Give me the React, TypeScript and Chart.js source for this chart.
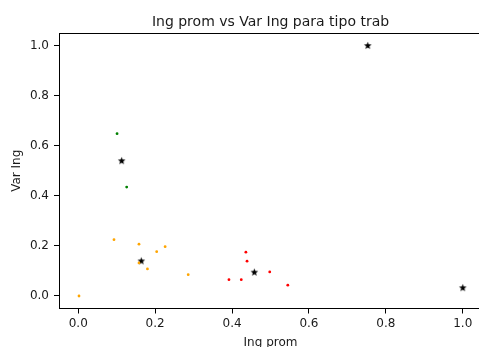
import React, { useEffect, useRef } from "react";
import { Chart, registerables } from "chart.js";

Chart.register(...registerables);

const TITLE = "Ing prom vs Var Ing para tipo trab";
const X_LABEL = "Ing prom";
const Y_LABEL = "Var Ing";

const greenX = [0.101, 0.126];
const greenY = [0.648, 0.435];
const orangeX = [0.002, 0.093, 0.158, 0.204, 0.226, 0.158, 0.180, 0.286];
const orangeY = [0.0, 0.225, 0.207, 0.177, 0.197, 0.132, 0.108, 0.085];
const redX = [0.392, 0.424, 0.436, 0.439, 0.498, 0.545];
const redY = [0.065, 0.065, 0.175, 0.139, 0.096, 0.043];
const centroidX = [0.753, 0.113, 0.164, 0.458, 1.0];
const centroidY = [1.0, 0.54, 0.14, 0.095, 0.033];
const tickValues = [0, 0.2, 0.4, 0.6, 0.8, 1.0];

const FONT = '"DejaVu Sans", Verdana, sans-serif';

function pts(xs: number[], ys: number[]) {
  return xs.map((x, i) => ({ x, y: ys[i] }));
}

function makeStar(): HTMLCanvasElement {
  const c = document.createElement("canvas");
  c.width = 9;
  c.height = 9;
  const g = c.getContext("2d")!;
  const cx = 4.5, cy = 4.7, ro = 4.0, ri = 1.7;
  g.beginPath();
  for (let i = 0; i < 10; i++) {
    const r = i % 2 === 0 ? ro : ri;
    const a = -Math.PI / 2 + (i * Math.PI) / 5;
    const px = cx + r * Math.cos(a);
    const py = cy + r * Math.sin(a);
    if (i === 0) g.moveTo(px, py);
    else g.lineTo(px, py);
  }
  g.closePath();
  g.fillStyle = "#000";
  g.fill();
  return c;
}

const textPlugin = {
  id: "texts",
  afterDraw(chart: any) {
    const { ctx, chartArea } = chart;
    ctx.save();
    // top spine
    ctx.strokeStyle = "#000";
    ctx.lineWidth = 1;
    ctx.beginPath();
    ctx.moveTo(chartArea.left, Math.round(chartArea.top) + 0.5);
    ctx.lineTo(chartArea.right, Math.round(chartArea.top) + 0.5);
    ctx.stroke();
    ctx.fillStyle = "#1a1a1a";
    const cx = (chartArea.left + chartArea.right) / 2;
    ctx.textAlign = "center";
    ctx.textBaseline = "alphabetic";
    ctx.font = `14px ${FONT}`;
    ctx.fillText(TITLE, cx, 25.7);
    ctx.font = `12px ${FONT}`;
    ctx.fillText(X_LABEL, cx, 346);
    ctx.translate(20, (chartArea.top + chartArea.bottom) / 2);
    ctx.rotate(-Math.PI / 2);
    ctx.fillText(Y_LABEL, 0, 0);
    ctx.restore();
  },
};

export default function App() {
  const ref = useRef<HTMLCanvasElement | null>(null);
  useEffect(() => {
    if (!ref.current) return;
    const star = makeStar();
    const tickOpts = {
      color: "#1a1a1a",
      font: { family: FONT, size: 12 },
      callback: (v: any) => Number(v).toFixed(1),
    };
    const chart = new Chart(ref.current, {
      type: "scatter",
      data: {
        datasets: [
          { data: pts(greenX, greenY), backgroundColor: "#008000", pointRadius: 1.4, borderWidth: 0 },
          { data: pts(orangeX, orangeY), backgroundColor: "#ffa500", pointRadius: 1.4, borderWidth: 0 },
          { data: pts(redX, redY), backgroundColor: "#ff0000", pointRadius: 1.4, borderWidth: 0 },
          { data: pts(centroidX, centroidY), pointStyle: star as any, pointRadius: 4, backgroundColor: "#000" },
        ],
      },
      options: {
        animation: false,
        responsive: false,
        devicePixelRatio: 1,
        layout: { autoPadding: false, padding: { top: 33, right: 1, left: 0, bottom: 0 } },
        plugins: { legend: { display: false }, tooltip: { enabled: false }, title: { display: false } },
        events: [],
        scales: {
          x: {
            type: "linear",
            min: -0.05,
            max: 1.05,
            afterBuildTicks: (s: any) => { s.ticks = tickValues.map((v) => ({ value: v })); },
            afterFit: (s: any) => { s.height = 38.5; s.paddingLeft = 0; s.paddingRight = 0; },
            grid: { drawOnChartArea: false, drawTicks: true, tickLength: 5, tickColor: "#000", tickWidth: 1 },
            border: { color: "#000", width: 1 },
            ticks: { ...tickOpts, padding: 3, maxRotation: 0 },
          },
          y: {
            type: "linear",
            min: -0.05,
            max: 1.05,
            afterBuildTicks: (s: any) => { s.ticks = tickValues.map((v) => ({ value: v })); },
            afterFit: (s: any) => { s.width = 59; s.paddingTop = 0; s.paddingBottom = 0; },
            grid: { drawOnChartArea: false, drawTicks: true, tickLength: 5, tickColor: "#000", tickWidth: 1 },
            border: { color: "#000", width: 1 },
            ticks: { ...tickOpts, padding: 5 },
          },
        },
      },
      plugins: [textPlugin],
    } as any);
    return () => chart.destroy();
  }, []);
  return (
    <div style={{ position: "fixed", left: 0, top: 0, width: 479, height: 347, overflow: "hidden", background: "#fff" }}>
      <canvas ref={ref} width={483} height={347} style={{ display: "block" }} />
    </div>
  );
}
